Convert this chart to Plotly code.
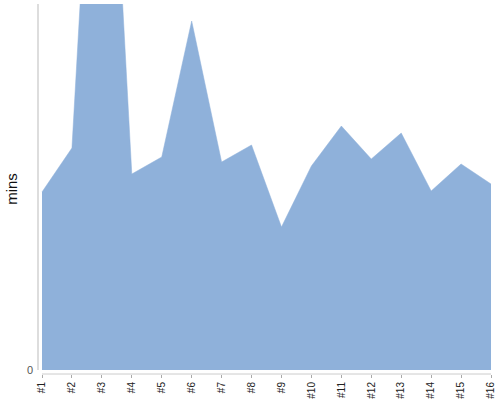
import plotly.graph_objects as go

categories = ["#1", "#2", "#3", "#4", "#5", "#6", "#7", "#8",
              "#9", "#10", "#11", "#12", "#13", "#14", "#15", "#16"]
mins = [17.8, 22.2, 75.0, 19.6, 21.3, 34.9, 20.8, 22.5,
        14.3, 20.4, 24.4, 21.1, 23.7, 17.9, 20.6, 18.6]

xpos = list(range(len(categories)))

fig = go.Figure()
fig.add_trace(go.Scatter(
    x=xpos, y=mins, mode="lines", fill="tozeroy",
    line=dict(color="#8FB1DA", width=0.5),
    fillcolor="#8FB1DA", hoverinfo="skip", showlegend=False,
))

fig.update_layout(
    width=500, height=400,
    margin=dict(l=38, r=8, t=4, b=26),
    paper_bgcolor="white", plot_bgcolor="white",
    font=dict(family="Arial, Liberation Sans, sans-serif", size=10, color="#000"),
    xaxis=dict(
        range=[-0.134, 15.033], tickmode="array", tickvals=xpos, ticktext=categories,
        tickangle=-90, ticks="outside", ticklen=3, tickcolor="#aaa",
        showgrid=False, zeroline=False, showline=False, automargin=False,
        tickfont=dict(size=10, color="#222"),
    ),
    yaxis=dict(
        range=[-0.4, 36.6], tickmode="array", tickvals=[0], ticktext=["0"],
        showgrid=False, zeroline=False, showline=False, ticks="", automargin=False,
        tickfont=dict(size=11, color="#555"), ticklabelstandoff=4,
        title=dict(text="mins", font=dict(size=15, color="#111"), standoff=5),
    ),
    shapes=[
        dict(type="line", xref="paper", yref="y", x0=0, x1=0, y0=0, y1=36.6,
             line=dict(color="#bbb", width=1)),
        dict(type="line", xref="x", yref="paper", x0=0, x1=15, y0=0, y1=0,
             line=dict(color="#ccc", width=1)),
    ],
)

fig.write_html("out.html", post_script="document.body.style.margin='0';",
               config={"displayModeBar": False})
